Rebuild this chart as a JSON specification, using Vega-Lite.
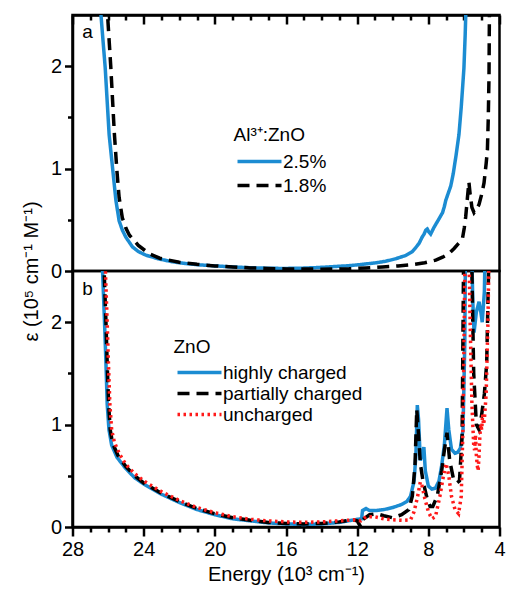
{
  "$schema": "https://vega.github.io/schema/vega-lite/v6.json",
  "background": "white",
  "padding": {"left": 19.5, "top": 12, "right": 0, "bottom": 2},
  "bounds": "flush",
  "spacing": 0,
  "config": {
    "font": "Liberation Sans",
    "view": {"stroke": "black", "strokeWidth": 2.5},
    "axis": {
      "grid": false,
      "ticks": true,
      "domainColor": "black",
      "domainWidth": 2.5,
      "tickColor": "black",
      "tickWidth": 2.5,
      "tickOpacity": 1,
      "labelColor": "black",
      "titleColor": "black",
      "labelFont": "Liberation Sans",
      "titleFont": "Liberation Sans",
      "labelFontSize": 20,
      "titleFontSize": 20,
      "titleFontWeight": "normal",
      "labelOverlap": false,
      "labelFlush": false
    },
    "legend": {
      "symbolType": "M-4,0H4",
      "symbolSize": 121,
      "symbolOffset": 16.5,
      "symbolStrokeWidth": 3.5,
      "labelFont": "Liberation Sans",
      "titleFont": "Liberation Sans",
      "labelFontSize": 19,
      "titleFontSize": 19,
      "titleFontWeight": "normal",
      "labelColor": "black",
      "titleColor": "black",
      "labelOffset": 14,
      "padding": 0
    }
  },
  "datasets": {
    "alzno": [
      {"s": "2.5%", "e": 26.7, "v": 3.2},
      {"s": "2.5%", "e": 26.4, "v": 2.5},
      {"s": "2.5%", "e": 26.16, "v": 1.98},
      {"s": "2.5%", "e": 25.94, "v": 1.33},
      {"s": "2.5%", "e": 25.75, "v": 1.01},
      {"s": "2.5%", "e": 25.56, "v": 0.69},
      {"s": "2.5%", "e": 25.38, "v": 0.49},
      {"s": "2.5%", "e": 25.2, "v": 0.4},
      {"s": "2.5%", "e": 25.0, "v": 0.33},
      {"s": "2.5%", "e": 24.63, "v": 0.235},
      {"s": "2.5%", "e": 24.3, "v": 0.19},
      {"s": "2.5%", "e": 23.88, "v": 0.155},
      {"s": "2.5%", "e": 23.2, "v": 0.12},
      {"s": "2.5%", "e": 22.38, "v": 0.09},
      {"s": "2.5%", "e": 21.6, "v": 0.072},
      {"s": "2.5%", "e": 20.88, "v": 0.06},
      {"s": "2.5%", "e": 20.0, "v": 0.05},
      {"s": "2.5%", "e": 19.0, "v": 0.04},
      {"s": "2.5%", "e": 18.0, "v": 0.032},
      {"s": "2.5%", "e": 17.0, "v": 0.027},
      {"s": "2.5%", "e": 16.2, "v": 0.025},
      {"s": "2.5%", "e": 15.2, "v": 0.027},
      {"s": "2.5%", "e": 14.3, "v": 0.033},
      {"s": "2.5%", "e": 13.4, "v": 0.042},
      {"s": "2.5%", "e": 12.45, "v": 0.052},
      {"s": "2.5%", "e": 11.7, "v": 0.065},
      {"s": "2.5%", "e": 10.96, "v": 0.08},
      {"s": "2.5%", "e": 10.4, "v": 0.095},
      {"s": "2.5%", "e": 9.83, "v": 0.12},
      {"s": "2.5%", "e": 9.3, "v": 0.15},
      {"s": "2.5%", "e": 8.9, "v": 0.19},
      {"s": "2.5%", "e": 8.7, "v": 0.23},
      {"s": "2.5%", "e": 8.52, "v": 0.27},
      {"s": "2.5%", "e": 8.35, "v": 0.33},
      {"s": "2.5%", "e": 8.24, "v": 0.36},
      {"s": "2.5%", "e": 8.14, "v": 0.4},
      {"s": "2.5%", "e": 8.06, "v": 0.41},
      {"s": "2.5%", "e": 7.97, "v": 0.38},
      {"s": "2.5%", "e": 7.87, "v": 0.36},
      {"s": "2.5%", "e": 7.7, "v": 0.42},
      {"s": "2.5%", "e": 7.5, "v": 0.48},
      {"s": "2.5%", "e": 7.3, "v": 0.54},
      {"s": "2.5%", "e": 7.2, "v": 0.57},
      {"s": "2.5%", "e": 7.1, "v": 0.63},
      {"s": "2.5%", "e": 7.02, "v": 0.69},
      {"s": "2.5%", "e": 6.9, "v": 0.75},
      {"s": "2.5%", "e": 6.74, "v": 0.83},
      {"s": "2.5%", "e": 6.6, "v": 0.95},
      {"s": "2.5%", "e": 6.45, "v": 1.12},
      {"s": "2.5%", "e": 6.28, "v": 1.33},
      {"s": "2.5%", "e": 6.15, "v": 1.6},
      {"s": "2.5%", "e": 6.0, "v": 1.98},
      {"s": "2.5%", "e": 5.93, "v": 2.3},
      {"s": "2.5%", "e": 5.88, "v": 2.6},
      {"s": "2.5%", "e": 5.8, "v": 3.2},
      {"s": "1.8%", "e": 26.3, "v": 3.2},
      {"s": "1.8%", "e": 26.03, "v": 2.5},
      {"s": "1.8%", "e": 25.85, "v": 2.0},
      {"s": "1.8%", "e": 25.65, "v": 1.35},
      {"s": "1.8%", "e": 25.5, "v": 0.97},
      {"s": "1.8%", "e": 25.38, "v": 0.72},
      {"s": "1.8%", "e": 25.2, "v": 0.52},
      {"s": "1.8%", "e": 25.0, "v": 0.42},
      {"s": "1.8%", "e": 24.8, "v": 0.35},
      {"s": "1.8%", "e": 24.3, "v": 0.25},
      {"s": "1.8%", "e": 23.7, "v": 0.17},
      {"s": "1.8%", "e": 23.1, "v": 0.125},
      {"s": "1.8%", "e": 22.0, "v": 0.085},
      {"s": "1.8%", "e": 21.0, "v": 0.065},
      {"s": "1.8%", "e": 20.0, "v": 0.05},
      {"s": "1.8%", "e": 19.0, "v": 0.04},
      {"s": "1.8%", "e": 18.0, "v": 0.03},
      {"s": "1.8%", "e": 17.0, "v": 0.025},
      {"s": "1.8%", "e": 16.0, "v": 0.02},
      {"s": "1.8%", "e": 14.0, "v": 0.018},
      {"s": "1.8%", "e": 12.45, "v": 0.022},
      {"s": "1.8%", "e": 11.5, "v": 0.03},
      {"s": "1.8%", "e": 10.58, "v": 0.04},
      {"s": "1.8%", "e": 9.7, "v": 0.05},
      {"s": "1.8%", "e": 8.9, "v": 0.062},
      {"s": "1.8%", "e": 8.2, "v": 0.08},
      {"s": "1.8%", "e": 7.58, "v": 0.106},
      {"s": "1.8%", "e": 7.2, "v": 0.135},
      {"s": "1.8%", "e": 6.84, "v": 0.17},
      {"s": "1.8%", "e": 6.55, "v": 0.22},
      {"s": "1.8%", "e": 6.3, "v": 0.27},
      {"s": "1.8%", "e": 6.09, "v": 0.31},
      {"s": "1.8%", "e": 5.98, "v": 0.42},
      {"s": "1.8%", "e": 5.9, "v": 0.53},
      {"s": "1.8%", "e": 5.8, "v": 0.72},
      {"s": "1.8%", "e": 5.72, "v": 0.87},
      {"s": "1.8%", "e": 5.65, "v": 0.75},
      {"s": "1.8%", "e": 5.55, "v": 0.62},
      {"s": "1.8%", "e": 5.43, "v": 0.57},
      {"s": "1.8%", "e": 5.3, "v": 0.6},
      {"s": "1.8%", "e": 5.15, "v": 0.65},
      {"s": "1.8%", "e": 5.0, "v": 0.75},
      {"s": "1.8%", "e": 4.87, "v": 0.86},
      {"s": "1.8%", "e": 4.75, "v": 1.05},
      {"s": "1.8%", "e": 4.68, "v": 1.18},
      {"s": "1.8%", "e": 4.63, "v": 1.5},
      {"s": "1.8%", "e": 4.59, "v": 1.9},
      {"s": "1.8%", "e": 4.57, "v": 2.45},
      {"s": "1.8%", "e": 4.52, "v": 3.2}
    ],
    "zno": [
      {"s": "highly charged", "e": 26.5, "v": 3.2},
      {"s": "highly charged", "e": 26.31, "v": 2.5},
      {"s": "highly charged", "e": 26.2, "v": 2.0},
      {"s": "highly charged", "e": 26.12, "v": 1.6},
      {"s": "highly charged", "e": 26.05, "v": 1.2},
      {"s": "highly charged", "e": 25.95, "v": 0.95},
      {"s": "highly charged", "e": 25.8, "v": 0.8},
      {"s": "highly charged", "e": 25.5, "v": 0.68},
      {"s": "highly charged", "e": 25.0, "v": 0.57},
      {"s": "highly charged", "e": 24.5, "v": 0.48},
      {"s": "highly charged", "e": 24.0, "v": 0.42},
      {"s": "highly charged", "e": 23.0, "v": 0.32},
      {"s": "highly charged", "e": 22.0, "v": 0.24},
      {"s": "highly charged", "e": 21.0, "v": 0.17},
      {"s": "highly charged", "e": 20.0, "v": 0.12},
      {"s": "highly charged", "e": 19.0, "v": 0.08},
      {"s": "highly charged", "e": 18.0, "v": 0.06},
      {"s": "highly charged", "e": 17.0, "v": 0.04},
      {"s": "highly charged", "e": 16.0, "v": 0.03},
      {"s": "highly charged", "e": 15.0, "v": 0.025},
      {"s": "highly charged", "e": 14.0, "v": 0.03},
      {"s": "highly charged", "e": 13.0, "v": 0.045},
      {"s": "highly charged", "e": 12.5, "v": 0.06},
      {"s": "highly charged", "e": 12.0, "v": 0.075},
      {"s": "highly charged", "e": 11.75, "v": 0.08},
      {"s": "highly charged", "e": 11.7, "v": 0.16},
      {"s": "highly charged", "e": 11.5, "v": 0.18},
      {"s": "highly charged", "e": 11.3, "v": 0.16},
      {"s": "highly charged", "e": 11.0, "v": 0.16},
      {"s": "highly charged", "e": 10.5, "v": 0.17},
      {"s": "highly charged", "e": 10.0, "v": 0.19},
      {"s": "highly charged", "e": 9.5, "v": 0.22},
      {"s": "highly charged", "e": 9.2, "v": 0.25},
      {"s": "highly charged", "e": 9.0, "v": 0.3},
      {"s": "highly charged", "e": 8.8, "v": 0.45},
      {"s": "highly charged", "e": 8.7, "v": 0.7},
      {"s": "highly charged", "e": 8.62, "v": 1.19},
      {"s": "highly charged", "e": 8.55, "v": 1.05},
      {"s": "highly charged", "e": 8.45, "v": 0.65},
      {"s": "highly charged", "e": 8.35, "v": 0.7},
      {"s": "highly charged", "e": 8.25, "v": 0.78},
      {"s": "highly charged", "e": 8.17, "v": 0.55},
      {"s": "highly charged", "e": 8.0, "v": 0.4},
      {"s": "highly charged", "e": 7.8, "v": 0.37},
      {"s": "highly charged", "e": 7.6, "v": 0.38},
      {"s": "highly charged", "e": 7.4, "v": 0.45},
      {"s": "highly charged", "e": 7.25, "v": 0.6},
      {"s": "highly charged", "e": 7.1, "v": 0.8},
      {"s": "highly charged", "e": 6.95, "v": 1.16},
      {"s": "highly charged", "e": 6.85, "v": 0.95},
      {"s": "highly charged", "e": 6.7, "v": 0.76},
      {"s": "highly charged", "e": 6.5, "v": 0.72},
      {"s": "highly charged", "e": 6.35, "v": 0.73},
      {"s": "highly charged", "e": 6.2, "v": 0.77},
      {"s": "highly charged", "e": 6.05, "v": 0.95},
      {"s": "highly charged", "e": 5.95, "v": 1.8},
      {"s": "highly charged", "e": 5.9, "v": 3.0},
      {"s": "highly charged", "e": 5.6, "v": 3.0},
      {"s": "highly charged", "e": 5.5, "v": 2.2},
      {"s": "highly charged", "e": 5.43, "v": 1.9},
      {"s": "highly charged", "e": 5.3, "v": 2.1},
      {"s": "highly charged", "e": 5.15, "v": 2.2},
      {"s": "highly charged", "e": 5.05, "v": 2.1},
      {"s": "highly charged", "e": 4.97, "v": 2.0},
      {"s": "highly charged", "e": 4.85, "v": 2.3},
      {"s": "highly charged", "e": 4.78, "v": 3.0},
      {"s": "highly charged", "e": 4.7, "v": 3.2},
      {"s": "partially charged", "e": 26.4, "v": 3.2},
      {"s": "partially charged", "e": 26.22, "v": 2.5},
      {"s": "partially charged", "e": 26.12, "v": 2.0},
      {"s": "partially charged", "e": 26.05, "v": 1.6},
      {"s": "partially charged", "e": 25.97, "v": 1.2},
      {"s": "partially charged", "e": 25.88, "v": 0.95},
      {"s": "partially charged", "e": 25.75, "v": 0.82},
      {"s": "partially charged", "e": 25.45, "v": 0.7},
      {"s": "partially charged", "e": 25.0, "v": 0.59},
      {"s": "partially charged", "e": 24.5, "v": 0.5},
      {"s": "partially charged", "e": 24.0, "v": 0.43},
      {"s": "partially charged", "e": 23.0, "v": 0.33},
      {"s": "partially charged", "e": 22.0, "v": 0.25},
      {"s": "partially charged", "e": 21.0, "v": 0.18},
      {"s": "partially charged", "e": 20.0, "v": 0.13},
      {"s": "partially charged", "e": 19.0, "v": 0.09},
      {"s": "partially charged", "e": 18.0, "v": 0.065},
      {"s": "partially charged", "e": 17.0, "v": 0.045},
      {"s": "partially charged", "e": 16.0, "v": 0.035},
      {"s": "partially charged", "e": 15.0, "v": 0.03},
      {"s": "partially charged", "e": 14.0, "v": 0.035},
      {"s": "partially charged", "e": 13.0, "v": 0.05},
      {"s": "partially charged", "e": 12.3, "v": 0.07},
      {"s": "partially charged", "e": 12.0, "v": 0.06},
      {"s": "partially charged", "e": 11.8, "v": 0.0},
      {"s": "partially charged", "e": 11.7, "v": 0.07},
      {"s": "partially charged", "e": 11.3, "v": 0.12},
      {"s": "partially charged", "e": 10.9, "v": 0.13},
      {"s": "partially charged", "e": 10.5, "v": 0.11},
      {"s": "partially charged", "e": 10.0, "v": 0.09},
      {"s": "partially charged", "e": 9.5, "v": 0.12},
      {"s": "partially charged", "e": 9.1, "v": 0.17},
      {"s": "partially charged", "e": 8.9, "v": 0.3},
      {"s": "partially charged", "e": 8.75, "v": 0.6},
      {"s": "partially charged", "e": 8.65, "v": 1.15},
      {"s": "partially charged", "e": 8.55, "v": 0.9},
      {"s": "partially charged", "e": 8.45, "v": 0.62},
      {"s": "partially charged", "e": 8.3, "v": 0.45},
      {"s": "partially charged", "e": 8.1, "v": 0.3},
      {"s": "partially charged", "e": 7.9, "v": 0.2},
      {"s": "partially charged", "e": 7.75, "v": 0.2},
      {"s": "partially charged", "e": 7.5, "v": 0.3},
      {"s": "partially charged", "e": 7.25, "v": 0.55},
      {"s": "partially charged", "e": 7.1, "v": 0.75},
      {"s": "partially charged", "e": 6.95, "v": 0.92},
      {"s": "partially charged", "e": 6.8, "v": 0.65},
      {"s": "partially charged", "e": 6.6, "v": 0.48},
      {"s": "partially charged", "e": 6.4, "v": 0.43},
      {"s": "partially charged", "e": 6.25, "v": 0.45},
      {"s": "partially charged", "e": 6.1, "v": 0.9},
      {"s": "partially charged", "e": 6.0, "v": 3.0},
      {"s": "partially charged", "e": 5.6, "v": 3.0},
      {"s": "partially charged", "e": 5.45, "v": 1.5},
      {"s": "partially charged", "e": 5.3, "v": 1.0},
      {"s": "partially charged", "e": 5.15, "v": 0.95},
      {"s": "partially charged", "e": 5.0, "v": 1.1},
      {"s": "partially charged", "e": 4.85, "v": 1.3},
      {"s": "partially charged", "e": 4.72, "v": 1.6},
      {"s": "partially charged", "e": 4.65, "v": 2.2},
      {"s": "partially charged", "e": 4.6, "v": 2.6},
      {"s": "partially charged", "e": 4.55, "v": 3.2},
      {"s": "uncharged", "e": 26.35, "v": 3.2},
      {"s": "uncharged", "e": 26.15, "v": 2.5},
      {"s": "uncharged", "e": 26.05, "v": 2.0},
      {"s": "uncharged", "e": 25.98, "v": 1.6},
      {"s": "uncharged", "e": 25.9, "v": 1.2},
      {"s": "uncharged", "e": 25.8, "v": 0.95},
      {"s": "uncharged", "e": 25.65, "v": 0.83},
      {"s": "uncharged", "e": 25.35, "v": 0.71},
      {"s": "uncharged", "e": 25.0, "v": 0.61},
      {"s": "uncharged", "e": 24.5, "v": 0.52},
      {"s": "uncharged", "e": 24.0, "v": 0.45},
      {"s": "uncharged", "e": 23.0, "v": 0.345},
      {"s": "uncharged", "e": 22.0, "v": 0.26},
      {"s": "uncharged", "e": 21.0, "v": 0.19},
      {"s": "uncharged", "e": 20.0, "v": 0.14},
      {"s": "uncharged", "e": 19.0, "v": 0.1},
      {"s": "uncharged", "e": 18.0, "v": 0.075},
      {"s": "uncharged", "e": 17.0, "v": 0.06},
      {"s": "uncharged", "e": 16.0, "v": 0.05},
      {"s": "uncharged", "e": 15.0, "v": 0.045},
      {"s": "uncharged", "e": 14.0, "v": 0.05},
      {"s": "uncharged", "e": 13.0, "v": 0.06},
      {"s": "uncharged", "e": 12.2, "v": 0.07},
      {"s": "uncharged", "e": 11.8, "v": 0.06},
      {"s": "uncharged", "e": 11.5, "v": 0.1},
      {"s": "uncharged", "e": 11.0, "v": 0.1},
      {"s": "uncharged", "e": 10.5, "v": 0.08},
      {"s": "uncharged", "e": 10.0, "v": 0.07},
      {"s": "uncharged", "e": 9.5, "v": 0.065},
      {"s": "uncharged", "e": 9.0, "v": 0.07},
      {"s": "uncharged", "e": 8.8, "v": 0.15},
      {"s": "uncharged", "e": 8.6, "v": 0.3},
      {"s": "uncharged", "e": 8.45, "v": 0.44},
      {"s": "uncharged", "e": 8.35, "v": 0.4},
      {"s": "uncharged", "e": 8.2, "v": 0.28},
      {"s": "uncharged", "e": 8.0, "v": 0.15},
      {"s": "uncharged", "e": 7.8, "v": 0.08},
      {"s": "uncharged", "e": 7.6, "v": 0.1},
      {"s": "uncharged", "e": 7.35, "v": 0.3},
      {"s": "uncharged", "e": 7.15, "v": 0.5},
      {"s": "uncharged", "e": 7.0, "v": 0.62},
      {"s": "uncharged", "e": 6.85, "v": 0.5},
      {"s": "uncharged", "e": 6.7, "v": 0.3},
      {"s": "uncharged", "e": 6.5, "v": 0.17},
      {"s": "uncharged", "e": 6.3, "v": 0.13},
      {"s": "uncharged", "e": 6.15, "v": 0.3},
      {"s": "uncharged", "e": 6.05, "v": 1.0},
      {"s": "uncharged", "e": 5.95, "v": 2.5},
      {"s": "uncharged", "e": 5.9, "v": 3.0},
      {"s": "uncharged", "e": 5.75, "v": 3.0},
      {"s": "uncharged", "e": 5.65, "v": 2.0},
      {"s": "uncharged", "e": 5.55, "v": 1.2},
      {"s": "uncharged", "e": 5.45, "v": 0.8},
      {"s": "uncharged", "e": 5.4, "v": 0.75},
      {"s": "uncharged", "e": 5.35, "v": 0.9},
      {"s": "uncharged", "e": 5.3, "v": 0.7},
      {"s": "uncharged", "e": 5.25, "v": 0.6},
      {"s": "uncharged", "e": 5.2, "v": 0.55},
      {"s": "uncharged", "e": 5.15, "v": 0.7},
      {"s": "uncharged", "e": 5.1, "v": 0.9},
      {"s": "uncharged", "e": 5.05, "v": 1.0},
      {"s": "uncharged", "e": 5.0, "v": 0.95},
      {"s": "uncharged", "e": 4.95, "v": 1.1},
      {"s": "uncharged", "e": 4.9, "v": 1.0},
      {"s": "uncharged", "e": 4.85, "v": 1.05},
      {"s": "uncharged", "e": 4.75, "v": 1.3},
      {"s": "uncharged", "e": 4.65, "v": 2.0},
      {"s": "uncharged", "e": 4.58, "v": 2.8},
      {"s": "uncharged", "e": 4.55, "v": 3.2}
    ]
  },
  "vconcat": [
    {
      "width": 427,
      "height": 256,
      "layer": [
        {
          "data": {"name": "alzno"},
          "mark": {"type": "line", "clip": true, "strokeWidth": 3.5},
          "encoding": {
            "x": {
              "field": "e", "type": "quantitative",
              "scale": {"domain": [4, 28], "reverse": true, "nice": false, "zero": false},
              "axis": {"orient": "top", "ticks": true, "tickColor": "black", "tickWidth": 2.5, "labels": false, "title": null, "values": [4, 8, 12, 16, 20, 24, 28], "tickSize": -9}
            },
            "y": {
              "field": "v", "type": "quantitative",
              "scale": {"domain": [0, 2.5], "nice": false},
              "axis": {"orient": "left", "ticks": true, "tickColor": "black", "tickWidth": 2.5, "title": null, "values": [0, 1, 2], "format": "d", "labelPadding": 3, "tickSize": 8}
            },
            "color": {
              "field": "s", "type": "nominal",
              "scale": {"domain": ["2.5%", "1.8%"], "range": ["#1c8cd2", "#000000"]},
              "legend": {"title": "Al³⁺:ZnO", "orient": "none", "legendX": 161, "legendY": 111, "rowPadding": 4, "titlePadding": 7}
            },
            "strokeDash": {
              "field": "s", "type": "nominal",
              "scale": {"domain": ["2.5%", "1.8%"], "range": [[1, 0], [12, 7]]},
              "legend": {"title": "Al³⁺:ZnO", "orient": "none", "legendX": 161, "legendY": 111, "rowPadding": 4, "titlePadding": 7}
            }
          }
        },
        {
          "data": {"values": [{"e": 27.45, "v": 2.33, "t": "a"}]},
          "mark": {"type": "text", "align": "left", "baseline": "middle", "fontSize": 19, "font": "Liberation Sans", "color": "black"},
          "encoding": {
            "x": {
              "field": "e", "type": "quantitative",
              "axis": {"orient": "top", "ticks": true, "tickColor": "black", "tickWidth": 2.5, "labels": false, "domain": false, "title": null, "values": [5, 6, 7, 9, 10, 11, 13, 14, 15, 17, 18, 19, 21, 22, 23, 25, 26, 27], "tickSize": -5}
            },
            "y": {
              "field": "v", "type": "quantitative",
              "axis": {"orient": "left", "ticks": true, "tickColor": "black", "tickWidth": 2.5, "labels": false, "domain": false, "title": null, "values": [0.5, 1.5], "tickSize": 5}
            },
            "text": {"field": "t"}
          }
        }
      ],
      "resolve": {"axis": {"x": "independent", "y": "independent"}}
    },
    {
      "width": 427,
      "height": 256,
      "layer": [
        {
          "data": {"name": "zno"},
          "mark": {"type": "line", "clip": true, "strokeWidth": 3.5},
          "encoding": {
            "x": {
              "field": "e", "type": "quantitative",
              "scale": {"domain": [4, 28], "reverse": true, "nice": false, "zero": false},
              "axis": {"orient": "bottom", "ticks": true, "tickColor": "black", "tickWidth": 2.5, "title": "Energy (10³ cm⁻¹)", "titlePadding": 5, "values": [4, 8, 12, 16, 20, 24, 28], "labelPadding": 3, "tickSize": 9}
            },
            "y": {
              "field": "v", "type": "quantitative",
              "scale": {"domain": [0, 2.5], "nice": false},
              "axis": {
                "orient": "left",
                "ticks": true,
                "tickColor": "black",
                "tickWidth": 2.5,
                "title": "ε (10⁵ cm⁻¹ M⁻¹)",
                "titleX": -35,
                "titleY": 0,
                "titleAngle": 270,
                "titleAlign": "center",
                "titleBaseline": "alphabetic",
                "values": [0, 1, 2],
                "format": "d",
                "labelPadding": 3,
                "tickSize": 8
              }
            },
            "color": {
              "field": "s", "type": "nominal",
              "scale": {"domain": ["highly charged", "partially charged", "uncharged"], "range": ["#1c8cd2", "#000000", "#ff1a1a"]},
              "legend": {"title": "ZnO", "orient": "none", "legendX": 101, "legendY": 67, "rowPadding": 1, "titlePadding": 6}
            },
            "strokeDash": {
              "field": "s", "type": "nominal",
              "scale": {"domain": ["highly charged", "partially charged", "uncharged"], "range": [[1, 0], [12, 7], [2.5, 3.5]]},
              "legend": {"title": "ZnO", "orient": "none", "legendX": 101, "legendY": 67, "rowPadding": 1, "titlePadding": 6}
            }
          }
        },
        {
          "data": {"values": [{"e": 27.45, "v": 2.32, "t": "b"}]},
          "mark": {"type": "text", "align": "left", "baseline": "middle", "fontSize": 19, "font": "Liberation Sans", "color": "black"},
          "encoding": {
            "x": {
              "field": "e", "type": "quantitative",
              "axis": {"orient": "bottom", "ticks": true, "tickColor": "black", "tickWidth": 2.5, "labels": false, "domain": false, "title": null, "values": [5, 6, 7, 9, 10, 11, 13, 14, 15, 17, 18, 19, 21, 22, 23, 25, 26, 27], "tickSize": 5}
            },
            "y": {
              "field": "v", "type": "quantitative",
              "axis": {"orient": "left", "ticks": true, "tickColor": "black", "tickWidth": 2.5, "labels": false, "domain": false, "title": null, "values": [0.5, 1.5], "tickSize": 5}
            },
            "text": {"field": "t"}
          }
        }
      ],
      "resolve": {"axis": {"x": "independent", "y": "independent"}}
    }
  ],
  "resolve": {
    "scale": {"color": "independent", "strokeDash": "independent"},
    "legend": {"color": "independent", "strokeDash": "independent"}
  }
}
